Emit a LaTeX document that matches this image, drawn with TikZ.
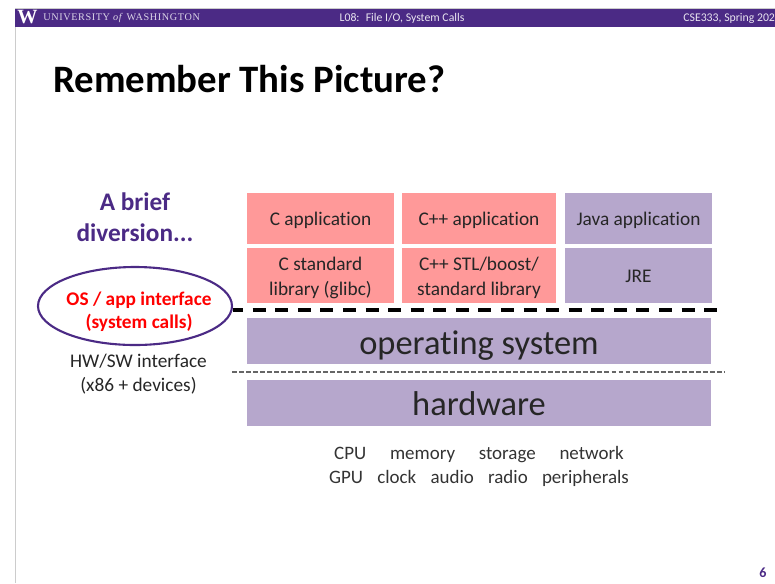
\documentclass[tikz,border=0pt]{standalone}
\usepackage{fontspec}
\setmainfont[Ligatures=NoCommon]{Carlito}
\newfontfamily\logofont{Liberation Serif}
\usetikzlibrary{shapes.geometric}
\definecolor{uwpurple}{HTML}{4B2A85}
\definecolor{layerpink}{HTML}{FF9999}
\definecolor{layerpurple}{HTML}{B6A7CC}
\newcommand{\boxtxt}[2][1.4pt]{\raisebox{-#1}[\height][\depth]{\begin{tabular}{@{}c@{}}#2\end{tabular}}}
\tikzset{
  layerbox/.style={inner sep=0pt, align=center, text=black!85, font=\fontsize{11}{14.2}\selectfont},
  bigbox/.style={layerbox, fill=layerpurple, minimum width=464*0.02cm, minimum height=46*0.02cm, font=\fontsize{19.6}{22}\selectfont},
  bartext/.style={inner sep=0pt, text=white!88!uwpurple, font=\fontsize{6.7}{8}\selectfont}
}
\begin{document}
\begin{tikzpicture}[x=0.02cm, y=-0.02cm]
  \useasboundingbox (0,0) rectangle (775,583);
  % slide frame
  \draw[black!20, line width=0.4pt] (15,583) -- (15,8.5) -- (775,8.5);
  \fill[uwpurple] (15,9) rectangle (775,27);
  \node[inner sep=0pt, anchor=west, text=white, font=\logofont\bfseries\fontsize{11.5}{12}\selectfont] (logo) at (17,17.5) {W};
  \node[bartext, anchor=west, text=white!80!uwpurple, font=\logofont\fontsize{5.8}{7}\selectfont\addfontfeature{LetterSpace=6}] (uni) at (43,18) {UNIVERSITY \textit{of} WASHINGTON};
  \node[bartext] (lecture) at (402,18) {L08:~ File I/O, System Calls};
  \node[bartext, anchor=west] (course) at (683,18) {CSE333, Spring 202};
  \node[inner sep=0pt, anchor=west, font=\bfseries\fontsize{22.1}{26}\selectfont] (title) at (53,79) {Remember This Picture?};
  % left column
  \node[inner sep=0pt, align=center, text=uwpurple, font=\bfseries\fontsize{14.4}{17.6}\selectfont] (brief) at (135,217.5) {A brief\\diversion...};
  \node[ellipse, draw=uwpurple, line width=1.2pt, minimum width=194*0.02cm, minimum height=78*0.02cm, inner sep=0pt] (iface) at (135,306) {};
  \node[inner sep=0pt, align=center, text=red, font=\bfseries\fontsize{11}{13.4}\selectfont] (ifacetxt) at (139,311.5) {OS / app interface\\(system calls)};
  \node[layerbox, font=\fontsize{11}{13.4}\selectfont] (hwsw) at (138.5,374) {HW/SW interface\\(x86 + devices)};
  % layers
  \node[layerbox, fill=layerpink, minimum width=147*0.02cm, minimum height=51*0.02cm] (capp) at (320.5,218.5) {\boxtxt{C application}};
  \node[layerbox, fill=layerpink, minimum width=154*0.02cm, minimum height=51*0.02cm] (cppapp) at (479,218.5) {\boxtxt{C++ application}};
  \node[layerbox, fill=layerpurple, minimum width=147*0.02cm, minimum height=51*0.02cm] (javaapp) at (638.5,218.5) {\boxtxt{Java application}};
  \node[layerbox, fill=layerpink, minimum width=147*0.02cm, minimum height=55*0.02cm] (clib) at (320.5,275.5) {\boxtxt{C standard\\library (glibc)}};
  \node[layerbox, fill=layerpink, minimum width=154*0.02cm, minimum height=55*0.02cm] (cpplib) at (479,275.5) {\boxtxt{C++ STL/boost/\\standard library}};
  \node[layerbox, fill=layerpurple, minimum width=147*0.02cm, minimum height=55*0.02cm] (jre) at (638.5,275.5) {\boxtxt{JRE}};
  \node[bigbox] (os) at (479,341) {\boxtxt[3.2pt]{operating system}};
  \node[bigbox] (hw) at (479,403) {\boxtxt[2.6pt]{hardware}};
  % interfaces
  \coordinate (osend) at (720,310);
  \coordinate (hwstart) at (232,372);
  \coordinate (hwend) at (725,372);
  \draw[line width=2pt, dash pattern=on 7.4pt off 5.45pt, dash phase=1.7pt, black] (iface.east |- osend) -- (osend);
  \draw[black!60, line width=0.6pt, dash pattern=on 2.8pt off 1.2pt] (hwstart) -- (hwend);
  % devices
  \node[layerbox, font=\fontsize{10.8}{13.6}\selectfont, text=black!80] (devtop) at (479,455) {CPU\hspace{1.25em}memory\hspace{1.25em}storage\hspace{1.25em}network};
  \node[layerbox, font=\fontsize{10.8}{13.6}\selectfont, text=black!80] (devbot) at (479,478) {GPU\hspace{0.75em}clock\hspace{0.75em}audio\hspace{0.75em}radio\hspace{0.75em}peripherals};
  \node[inner sep=0pt, text=uwpurple, font=\bfseries\fontsize{8}{9}\selectfont] (page) at (763,573) {6};
\end{tikzpicture}
\end{document}
